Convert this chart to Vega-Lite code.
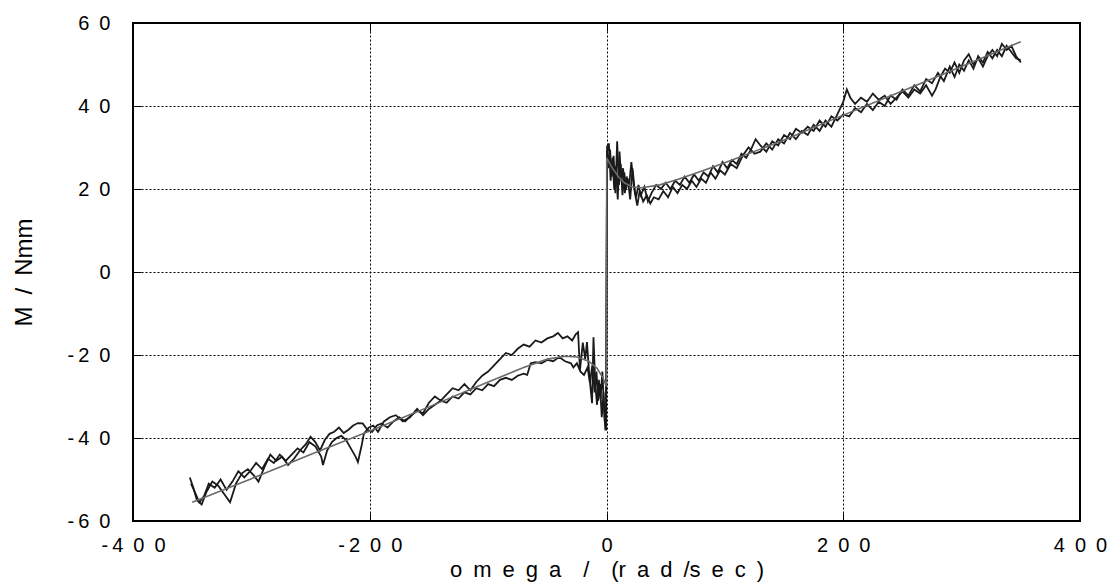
{
  "$schema": "https://vega.github.io/schema/vega-lite/v6.json",
  "width": 947,
  "height": 498,
  "autosize": "none",
  "padding": {"left": 133, "top": 23, "right": 32, "bottom": 67},
  "background": "white",
  "config": {
    "view": {"stroke": "black", "strokeWidth": 2},
    "axis": {"labelFont": "Liberation Sans", "titleFont": "Liberation Sans", "labelColor": "black", "titleColor": "black", "titleFontWeight": "normal", "domain": false, "labelFlush": false}
  },
  "datasets": {
    "meas": [
      {"s":"a","x":-352,"y":-49.5},{"s":"a","x":-349,"y":-52},{"s":"a","x":-346,"y":-55},{"s":"a","x":-342,"y":-56},{"s":"a","x":-338,"y":-53},{"s":"a","x":-333,"y":-50.5},{"s":"a","x":-328,"y":-51.5},{"s":"a","x":-323,"y":-53.5},{"s":"a","x":-318,"y":-55.5},{"s":"a","x":-313,"y":-51},{"s":"a","x":-308,"y":-48.5},{"s":"a","x":-303,"y":-47.5},{"s":"a","x":-298,"y":-49},{"s":"a","x":-294,"y":-50.5},{"s":"a","x":-289,"y":-47},{"s":"a","x":-284,"y":-44},{"s":"a","x":-279,"y":-45.5},{"s":"a","x":-274,"y":-44.5},{"s":"a","x":-269,"y":-46.5},{"s":"a","x":-264,"y":-45},{"s":"a","x":-259,"y":-43},{"s":"a","x":-254,"y":-41.5},{"s":"a","x":-250,"y":-39.7},{"s":"a","x":-246,"y":-41},{"s":"a","x":-242,"y":-43},{"s":"a","x":-238,"y":-40.5},{"s":"a","x":-234,"y":-39},{"s":"a","x":-230,"y":-38.5},{"s":"a","x":-226,"y":-37.5},{"s":"a","x":-222,"y":-38.8},{"s":"a","x":-218,"y":-38},{"s":"a","x":-214,"y":-37},{"s":"a","x":-210,"y":-36.4},{"s":"a","x":-206,"y":-36.5},{"s":"a","x":-202,"y":-38},{"s":"a","x":-198,"y":-38.5},{"s":"a","x":-194,"y":-37},{"s":"a","x":-190,"y":-36.5},{"s":"a","x":-185,"y":-37.5},{"s":"a","x":-180,"y":-36},{"s":"a","x":-175,"y":-35},{"s":"a","x":-170,"y":-36},{"s":"a","x":-165,"y":-34.5},{"s":"a","x":-160,"y":-33.5},{"s":"a","x":-155,"y":-34},{"s":"a","x":-150,"y":-31.5},{"s":"a","x":-145,"y":-30},{"s":"a","x":-140,"y":-31},{"s":"a","x":-135,"y":-29.5},{"s":"a","x":-130,"y":-28},{"s":"a","x":-125,"y":-28.5},{"s":"a","x":-120,"y":-27},{"s":"a","x":-115,"y":-28.5},{"s":"a","x":-110,"y":-26.5},{"s":"a","x":-105,"y":-25},{"s":"a","x":-100,"y":-24},{"s":"a","x":-95,"y":-22.5},{"s":"a","x":-90,"y":-21},{"s":"a","x":-85,"y":-19.5},{"s":"a","x":-80,"y":-20},{"s":"a","x":-75,"y":-18.5},{"s":"a","x":-70,"y":-17.5},{"s":"a","x":-65,"y":-18},{"s":"a","x":-60,"y":-16.5},{"s":"a","x":-55,"y":-17},{"s":"a","x":-50,"y":-16},{"s":"a","x":-45,"y":-15.5},{"s":"a","x":-41,"y":-14.7},{"s":"a","x":-37,"y":-16},{"s":"a","x":-33,"y":-15.5},{"s":"a","x":-29,"y":-16.5},{"s":"a","x":-26,"y":-15},{"s":"a","x":-24,"y":-14.5},{"s":"a","x":-22.4,"y":-23.6},{"s":"a","x":-20,"y":-17},{"s":"a","x":-18,"y":-21},{"s":"a","x":-16.5,"y":-16.9},{"s":"a","x":-14.5,"y":-25},{"s":"a","x":-12.2,"y":-31.6},{"s":"a","x":-11,"y":-15.7},{"s":"a","x":-9.5,"y":-27},{"s":"a","x":-8,"y":-32},{"s":"a","x":-6.5,"y":-26},{"s":"a","x":-5,"y":-30.5},{"s":"a","x":-3.5,"y":-24},{"s":"a","x":-2,"y":-33},{"s":"a","x":-1,"y":-38},{"s":"a","x":-0.3,"y":-38},
      {"s":"a","x":0.5,"y":30.5},{"s":"a","x":1.5,"y":25},{"s":"a","x":3,"y":29.5},{"s":"a","x":4.5,"y":23},{"s":"a","x":6,"y":28},{"s":"a","x":7.5,"y":19},{"s":"a","x":9,"y":31.5},{"s":"a","x":10.5,"y":21},{"s":"a","x":12,"y":26},{"s":"a","x":13.5,"y":18.5},{"s":"a","x":15,"y":24},{"s":"a","x":16.5,"y":20},{"s":"a","x":18,"y":22.5},{"s":"a","x":20,"y":17.5},{"s":"a","x":22,"y":25},{"s":"a","x":24,"y":19},{"s":"a","x":26,"y":16},{"s":"a","x":28,"y":19.5},{"s":"a","x":31,"y":17},{"s":"a","x":34,"y":18.5},{"s":"a","x":37,"y":16.5},{"s":"a","x":40,"y":18},{"s":"a","x":44,"y":17.5},{"s":"a","x":48,"y":19.5},{"s":"a","x":52,"y":18},{"s":"a","x":56,"y":20.5},{"s":"a","x":60,"y":19},{"s":"a","x":64,"y":21},{"s":"a","x":68,"y":20},{"s":"a","x":72,"y":22},{"s":"a","x":76,"y":20.5},{"s":"a","x":80,"y":22.5},{"s":"a","x":84,"y":21.5},{"s":"a","x":88,"y":24},{"s":"a","x":92,"y":22.5},{"s":"a","x":96,"y":24.5},{"s":"a","x":100,"y":23.5},{"s":"a","x":105,"y":26},{"s":"a","x":110,"y":25},{"s":"a","x":115,"y":28},{"s":"a","x":120,"y":30},{"s":"a","x":125,"y":28.5},{"s":"a","x":130,"y":29},{"s":"a","x":135,"y":31},{"s":"a","x":140,"y":29.5},{"s":"a","x":145,"y":32},{"s":"a","x":150,"y":31},{"s":"a","x":155,"y":33.5},{"s":"a","x":160,"y":32},{"s":"a","x":165,"y":34},{"s":"a","x":170,"y":33},{"s":"a","x":175,"y":35.5},{"s":"a","x":180,"y":34},{"s":"a","x":185,"y":36.5},{"s":"a","x":190,"y":35},{"s":"a","x":195,"y":38},{"s":"a","x":200,"y":41},{"s":"a","x":203,"y":44},{"s":"a","x":206,"y":42},{"s":"a","x":210,"y":40.5},{"s":"a","x":215,"y":42},{"s":"a","x":220,"y":41},{"s":"a","x":225,"y":43},{"s":"a","x":230,"y":41.5},{"s":"a","x":235,"y":42.5},{"s":"a","x":240,"y":40.5},{"s":"a","x":245,"y":42},{"s":"a","x":250,"y":43.5},{"s":"a","x":255,"y":42},{"s":"a","x":260,"y":44},{"s":"a","x":265,"y":43},{"s":"a","x":270,"y":45},{"s":"a","x":275,"y":42.5},{"s":"a","x":278,"y":44},{"s":"a","x":282,"y":47},{"s":"a","x":286,"y":49},{"s":"a","x":290,"y":48},{"s":"a","x":294,"y":50.5},{"s":"a","x":298,"y":48},{"s":"a","x":302,"y":51},{"s":"a","x":306,"y":52.5},{"s":"a","x":310,"y":50},{"s":"a","x":314,"y":51.5},{"s":"a","x":318,"y":49.5},{"s":"a","x":322,"y":52},{"s":"a","x":326,"y":53.5},{"s":"a","x":330,"y":52},{"s":"a","x":334,"y":55},{"s":"a","x":338,"y":53.5},{"s":"a","x":342,"y":54.5},{"s":"a","x":346,"y":52},{"s":"a","x":350,"y":50.5},
      {"s":"b","x":-351,"y":-51},{"s":"b","x":-347,"y":-53.5},{"s":"b","x":-344,"y":-55.5},{"s":"b","x":-340,"y":-54},{"s":"b","x":-336,"y":-51},{"s":"b","x":-331,"y":-52},{"s":"b","x":-326,"y":-50},{"s":"b","x":-321,"y":-52.5},{"s":"b","x":-316,"y":-50.5},{"s":"b","x":-311,"y":-48},{"s":"b","x":-306,"y":-49.5},{"s":"b","x":-301,"y":-48},{"s":"b","x":-296,"y":-46},{"s":"b","x":-291,"y":-47.5},{"s":"b","x":-286,"y":-45},{"s":"b","x":-281,"y":-46},{"s":"b","x":-276,"y":-44},{"s":"b","x":-271,"y":-45.5},{"s":"b","x":-266,"y":-44},{"s":"b","x":-261,"y":-42.5},{"s":"b","x":-256,"y":-43.5},{"s":"b","x":-251,"y":-41},{"s":"b","x":-246,"y":-42},{"s":"b","x":-241,"y":-44.5},{"s":"b","x":-239.5,"y":-46.5},{"s":"b","x":-236,"y":-43},{"s":"b","x":-232,"y":-41},{"s":"b","x":-228,"y":-40},{"s":"b","x":-224,"y":-39.5},{"s":"b","x":-220,"y":-40.5},{"s":"b","x":-216,"y":-42.5},{"s":"b","x":-212,"y":-44.5},{"s":"b","x":-210,"y":-45.8},{"s":"b","x":-207,"y":-42},{"s":"b","x":-205,"y":-39},{"s":"b","x":-201,"y":-37.5},{"s":"b","x":-197,"y":-37},{"s":"b","x":-193,"y":-38.5},{"s":"b","x":-188,"y":-36},{"s":"b","x":-183,"y":-35},{"s":"b","x":-178,"y":-34.5},{"s":"b","x":-172,"y":-36},{"s":"b","x":-166,"y":-35},{"s":"b","x":-160,"y":-33},{"s":"b","x":-155,"y":-34.5},{"s":"b","x":-150,"y":-33},{"s":"b","x":-145,"y":-32},{"s":"b","x":-140,"y":-31},{"s":"b","x":-135,"y":-31.5},{"s":"b","x":-130,"y":-30},{"s":"b","x":-125,"y":-30.5},{"s":"b","x":-120,"y":-29},{"s":"b","x":-115,"y":-29.5},{"s":"b","x":-110,"y":-28},{"s":"b","x":-105,"y":-28.5},{"s":"b","x":-100,"y":-27},{"s":"b","x":-95,"y":-27.5},{"s":"b","x":-90,"y":-26},{"s":"b","x":-85,"y":-25.5},{"s":"b","x":-80,"y":-26},{"s":"b","x":-75,"y":-25},{"s":"b","x":-70,"y":-24.5},{"s":"b","x":-67,"y":-24.8},{"s":"b","x":-64,"y":-22},{"s":"b","x":-60,"y":-21.7},{"s":"b","x":-55,"y":-22},{"s":"b","x":-50,"y":-21.2},{"s":"b","x":-45,"y":-21.5},{"s":"b","x":-40,"y":-20.5},{"s":"b","x":-35,"y":-21.5},{"s":"b","x":-30,"y":-22},{"s":"b","x":-28,"y":-23},{"s":"b","x":-25,"y":-22},{"s":"b","x":-22,"y":-24},{"s":"b","x":-19,"y":-24.8},{"s":"b","x":-16,"y":-23},{"s":"b","x":-14,"y":-26.7},{"s":"b","x":-12,"y":-22.5},{"s":"b","x":-10,"y":-29},{"s":"b","x":-8.5,"y":-24},{"s":"b","x":-7,"y":-31},{"s":"b","x":-5.5,"y":-27},{"s":"b","x":-4,"y":-35},{"s":"b","x":-2.5,"y":-29},{"s":"b","x":-1.5,"y":-36},{"s":"b","x":-0.5,"y":-37},
      {"s":"b","x":0.5,"y":29},{"s":"b","x":2,"y":31},{"s":"b","x":3.5,"y":22},{"s":"b","x":5,"y":27.5},{"s":"b","x":6.5,"y":20},{"s":"b","x":8,"y":25.5},{"s":"b","x":9.5,"y":17.5},{"s":"b","x":11,"y":29},{"s":"b","x":12.5,"y":22},{"s":"b","x":14,"y":25},{"s":"b","x":15.5,"y":19},{"s":"b","x":17,"y":23},{"s":"b","x":19,"y":20.5},{"s":"b","x":21,"y":26.5},{"s":"b","x":23,"y":21},{"s":"b","x":25,"y":18},{"s":"b","x":27,"y":21},{"s":"b","x":29,"y":18.5},{"s":"b","x":32,"y":20.5},{"s":"b","x":35,"y":17},{"s":"b","x":38,"y":19},{"s":"b","x":42,"y":21},{"s":"b","x":46,"y":20},{"s":"b","x":50,"y":21.5},{"s":"b","x":54,"y":20},{"s":"b","x":58,"y":22},{"s":"b","x":62,"y":21},{"s":"b","x":66,"y":23},{"s":"b","x":70,"y":21.5},{"s":"b","x":74,"y":23.5},{"s":"b","x":78,"y":22},{"s":"b","x":82,"y":24},{"s":"b","x":86,"y":23},{"s":"b","x":90,"y":25.5},{"s":"b","x":94,"y":24},{"s":"b","x":98,"y":26.5},{"s":"b","x":102,"y":25},{"s":"b","x":106,"y":27},{"s":"b","x":110,"y":26},{"s":"b","x":114,"y":28.5},{"s":"b","x":118,"y":27.5},{"s":"b","x":122,"y":29.5},{"s":"b","x":126,"y":32},{"s":"b","x":130,"y":30.5},{"s":"b","x":135,"y":29},{"s":"b","x":140,"y":31.5},{"s":"b","x":145,"y":30.5},{"s":"b","x":150,"y":33},{"s":"b","x":155,"y":32},{"s":"b","x":160,"y":34.5},{"s":"b","x":165,"y":33.5},{"s":"b","x":170,"y":35},{"s":"b","x":175,"y":34},{"s":"b","x":180,"y":36.5},{"s":"b","x":185,"y":35},{"s":"b","x":190,"y":37.5},{"s":"b","x":195,"y":36.5},{"s":"b","x":200,"y":38},{"s":"b","x":205,"y":37.5},{"s":"b","x":210,"y":39.5},{"s":"b","x":215,"y":38.5},{"s":"b","x":220,"y":40.5},{"s":"b","x":225,"y":39},{"s":"b","x":230,"y":41},{"s":"b","x":235,"y":40},{"s":"b","x":240,"y":42.5},{"s":"b","x":245,"y":41.5},{"s":"b","x":250,"y":44},{"s":"b","x":255,"y":42.5},{"s":"b","x":260,"y":45},{"s":"b","x":265,"y":43.5},{"s":"b","x":270,"y":46.5},{"s":"b","x":275,"y":45.5},{"s":"b","x":280,"y":48},{"s":"b","x":285,"y":46},{"s":"b","x":290,"y":49.5},{"s":"b","x":294,"y":47},{"s":"b","x":298,"y":50},{"s":"b","x":302,"y":48.5},{"s":"b","x":306,"y":51},{"s":"b","x":310,"y":49},{"s":"b","x":314,"y":52},{"s":"b","x":318,"y":50.5},{"s":"b","x":322,"y":53},{"s":"b","x":326,"y":51.5},{"s":"b","x":330,"y":53.5},{"s":"b","x":334,"y":52},{"s":"b","x":338,"y":54.5},{"s":"b","x":342,"y":53},{"s":"b","x":346,"y":51.5},{"s":"b","x":350,"y":51}
    ],
    "fit": [
      {"x":-350,"y":-55.5},{"x":-300,"y":-49.8},{"x":-250,"y":-44},{"x":-200,"y":-38.3},{"x":-150,"y":-32.5},{"x":-100,"y":-26.5},{"x":-70,"y":-23},{"x":-50,"y":-21},{"x":-35,"y":-20.3},{"x":-25,"y":-20.5},{"x":-15,"y":-21.5},{"x":-8,"y":-23.2},{"x":-3,"y":-25.5},{"x":-0.2,"y":-27.5},{"x":0.2,"y":27.5},{"x":2,"y":26.5},{"x":5,"y":25},{"x":10,"y":23},{"x":15,"y":21.5},{"x":22,"y":20.5},{"x":30,"y":20.3},{"x":45,"y":21},{"x":60,"y":22.3},{"x":80,"y":24.3},{"x":100,"y":26.3},{"x":150,"y":31.8},{"x":200,"y":37.8},{"x":250,"y":43.6},{"x":300,"y":49.5},{"x":350,"y":55.5}
    ]
  },
  "resolve": {"axis": {"x": "independent", "y": "independent"}},
  "layer": [
    {
      "data": {"name": "meas"},
      "mark": {"type": "line", "color": "#1a1a1a", "strokeWidth": 1.8},
      "encoding": {
        "x": {"field": "x", "type": "quantitative", "scale": {"domain": [-400, 400], "nice": false, "zero": false},
          "axis": {"orient": "bottom", "values": [-400, -200, 0, 200, 400], "grid": true, "gridColor": "black", "gridDash": [2, 2], "gridWidth": 1, "gridOpacity": 1,
            "tickSize": -8, "tickColor": "black", "tickWidth": 1, "labelPadding": 22, "labelFontSize": 20,
            "labelExpr": "datum.value == -400 ? '-\u20094\u20020\u20020' : datum.value == -200 ? '-\u20092\u20020\u20020' : datum.value == 0 ? '0' : datum.value == 200 ? '2\u20020\u20020' : '4\u20020\u20020'",
            "title": "o\u2002m\u2002e\u2002g\u2002a\u2002\u2002/\u2002\u2002(r\u2002a\u2002d\u2002/s\u2002e\u2002c\u2002)", "titleFontSize": 22, "titlePadding": 4}},
        "y": {"field": "y", "type": "quantitative", "scale": {"domain": [-60, 60], "nice": false, "zero": false},
          "axis": {"orient": "left", "values": [-60, -40, -20, 0, 20, 40, 60], "grid": true, "gridColor": "black", "gridDash": [2, 2], "gridWidth": 1, "gridOpacity": 1,
            "tickSize": -8, "tickColor": "black", "tickWidth": 1, "labelPadding": 31, "labelFontSize": 20,
            "labelExpr": "datum.value == -60 ? '-\u20096\u20020' : datum.value == -40 ? '-\u20094\u20020' : datum.value == -20 ? '-\u20092\u20020' : datum.value == 0 ? '0' : datum.value == 20 ? '2\u20020' : datum.value == 40 ? '4\u20020' : '6\u20020'",
            "title": "M\u2002/\u2002Nmm", "titleFontSize": 24, "titlePadding": 31}},
        "detail": {"field": "s", "type": "nominal"}
      }
    },
    {
      "data": {"name": "fit"},
      "mark": {"type": "line", "color": "#6a6a6a", "strokeWidth": 1.6},
      "encoding": {
        "x": {"field": "x", "type": "quantitative",
          "axis": {"orient": "top", "values": [-400, -200, 0, 200, 400], "grid": false, "labels": false, "title": null, "tickSize": -8, "tickColor": "black"}},
        "y": {"field": "y", "type": "quantitative",
          "axis": {"orient": "right", "values": [-60, -40, -20, 0, 20, 40, 60], "grid": false, "labels": false, "title": null, "tickSize": -8, "tickColor": "black"}}
      }
    }
  ]
}
